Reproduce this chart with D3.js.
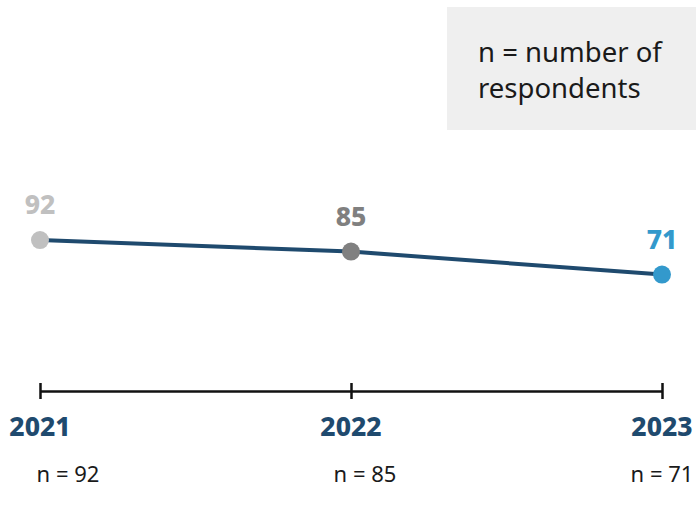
<!DOCTYPE html>
<html>
<head>
<meta charset="utf-8">
<script src="https://cdn.jsdelivr.net/npm/d3@7"></script>
<style>
  body { margin: 0; background: #fff; }
  svg { display: block; font-family: "Noto Sans", sans-serif; }
</style>
</head>
<body>
<div id="wrapper"></div>
<script>
// data
const years = ["2021", "2022", "2023"]
const values = [92, 85, 71]
const respondents = ["n = 92", "n = 85", "n = 71"]
const pointColors = ["#c0c0c0", "#808080", "#3399cc"]
const legendLines = ["n = number of", "respondents"]

const width = 696
const height = 506

const svg = d3.select("#wrapper")
  .append("svg")
    .attr("width", width)
    .attr("height", height)

// scales
const xScale = d3.scalePoint()
    .domain(years)
    .range([40, 662])

const yScale = d3.scaleLinear()
    .domain([0, 100])
    .range([391, 227])

// legend box
svg.append("rect")
    .attr("x", 447)
    .attr("y", 7)
    .attr("width", 249)
    .attr("height", 123)
    .attr("fill", "#efefef")

svg.append("text")
    .attr("x", 478)
    .attr("y", 62)
    .attr("font-size", 27.5)
    .attr("fill", "#1a1a1a")
  .selectAll("tspan")
  .data(legendLines)
  .join("tspan")
    .attr("x", 478)
    .attr("dy", (d, i) => i ? 36 : 0)
    .text(d => d)

// axis
const axis = svg.append("g")
    .attr("transform", "translate(0,391)")
    .call(d3.axisBottom(xScale).tickSize(0).tickFormat(""))
axis.select(".domain")
    .attr("stroke", "#111")
    .attr("stroke-width", 2.5)
axis.selectAll(".tick line")
    .attr("y1", -8)
    .attr("y2", 8)
    .attr("stroke", "#111")
    .attr("stroke-width", 2.5)

// year labels
svg.selectAll(".year")
  .data(years)
  .join("text")
    .attr("class", "year")
    .attr("x", d => xScale(d))
    .attr("y", 436)
    .attr("text-anchor", "middle")
    .attr("font-size", 26.5)
    .attr("font-weight", 800)
    .attr("fill", "#1f4a6e")
    .text(d => d)

// respondent counts
const nOffsets = [28, 14, 0]
svg.selectAll(".resp")
  .data(respondents)
  .join("text")
    .attr("class", "resp")
    .attr("x", (d, i) => xScale(years[i]) + nOffsets[i])
    .attr("y", 482)
    .attr("text-anchor", "middle")
    .attr("font-size", 22)
    .attr("fill", "#1a1a1a")
    .text(d => d)

// line
const points = years.map((y, i) => ({ year: y, value: values[i], color: pointColors[i] }))

svg.append("path")
    .datum(points)
    .attr("fill", "none")
    .attr("stroke", "#1f4a6e")
    .attr("stroke-width", 4)
    .attr("d", d3.line().x(d => xScale(d.year)).y(d => yScale(d.value)))

svg.selectAll(".dot")
  .data(points)
  .join("circle")
    .attr("class", "dot")
    .attr("cx", d => xScale(d.year))
    .attr("cy", d => yScale(d.value))
    .attr("r", 9)
    .attr("fill", d => d.color)

svg.selectAll(".val")
  .data(points)
  .join("text")
    .attr("class", "val")
    .attr("x", d => xScale(d.year))
    .attr("y", d => yScale(d.value) - 26)
    .attr("text-anchor", "middle")
    .attr("font-size", 26.5)
    .attr("font-weight", 800)
    .attr("fill", d => d.color)
    .text(d => d.value)
</script>
</body>
</html>
